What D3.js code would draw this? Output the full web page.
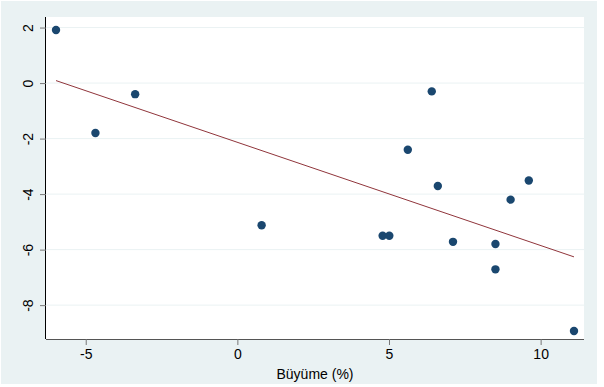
<!DOCTYPE html>
<html>
<head>
<meta charset="utf-8">
<script src="https://cdn.jsdelivr.net/npm/d3@7"></script>
<style>
	body { margin: 0; background: #fff; }
	svg { display: block; font-family: "Liberation Sans", Arial, sans-serif; }
</style>
</head>
<body>
<div id="chart"></div>
<script>
// değerler
const growth = [-5.98, -4.68, -3.37, 0.80, 4.79, 5.01, 5.62, 6.41, 6.61, 7.11, 8.51, 8.51, 9.01, 9.61, 11.10];
const yvals  = [1.91, -1.80, -0.40, -5.12, -5.50, -5.50, -2.40, -0.30, -3.71, -5.72, -5.80, -6.71, -4.20, -3.51, -8.93];
const xTicks = [-5, 0, 5, 10];
const yTicks = [2, 0, -2, -4, -6, -8];
const xTitle = "Büyüme (%)";

const W = 604, H = 387;
const plot = { left: 46, top: 17, right: 584, bottom: 339 };

const svg = d3.select("#chart")
	.append("svg")
		.attr("width", W)
		.attr("height", H);

svg.append("rect")
	.attr("x", 1).attr("y", 1)
	.attr("width", 596).attr("height", 383)
	.attr("fill", "#eaf2f3");

const x = d3.scaleLinear().domain([-6.31, 11.43]).range([plot.left, plot.right]);
const y = d3.scaleLinear().domain([2.38, -9.22]).range([plot.top, plot.bottom]);

svg.append("rect")
	.attr("x", plot.left).attr("y", plot.top)
	.attr("width", plot.right - plot.left)
	.attr("height", plot.bottom - plot.top)
	.attr("fill", "#fff");

// yatay ızgara
svg.append("g")
	.selectAll("line")
	.data(yTicks)
	.join("line")
		.attr("x1", plot.left).attr("x2", plot.right)
		.attr("y1", d => y(d)).attr("y2", d => y(d))
		.attr("stroke", "#eaf2f3")
		.attr("stroke-width", 1);

// doğrusal uyum (en küçük kareler)
const mx = d3.mean(growth), my = d3.mean(yvals);
let sxy = 0, sxx = 0;
growth.forEach((g, i) => {
	sxy += (g - mx) * (yvals[i] - my);
	sxx += (g - mx) * (g - mx);
});
const slope = sxy / sxx;
const icpt = my - slope * mx;
const [xmin, xmax] = d3.extent(growth);

svg.append("line")
	.attr("x1", x(xmin)).attr("y1", y(icpt + slope * xmin))
	.attr("x2", x(xmax)).attr("y2", y(icpt + slope * xmax))
	.attr("stroke", "#90353b")
	.attr("stroke-width", 1);

svg.append("g")
	.selectAll("circle")
	.data(growth)
	.join("circle")
		.attr("cx", d => x(d))
		.attr("cy", (d, i) => y(yvals[i]))
		.attr("r", 4.2)
		.attr("fill", "#1a476f");

// eksenler
const xAxis = svg.append("g")
	.attr("transform", `translate(0,${plot.bottom})`)
	.call(d3.axisBottom(x).tickValues(xTicks).tickSize(6).tickPadding(4).tickFormat(d => String(d)));
xAxis.select(".domain")
	.attr("d", `M${plot.left},0.5H${plot.right}`)
	.attr("stroke", "#555");

const yAxis = svg.append("g")
	.attr("transform", `translate(${plot.left},0)`)
	.call(d3.axisLeft(y).tickValues(yTicks).tickSize(6).tickPadding(6).tickFormat(d => String(d)));
yAxis.select(".domain")
	.attr("d", `M-0.5,${plot.top}V${plot.bottom}`)
	.attr("stroke", "#000");

svg.selectAll(".tick line").attr("stroke", "#777");
svg.selectAll(".tick text")
	.attr("font-size", 14)
	.attr("fill", "#000")
	.attr("font-family", "Liberation Sans, Arial, sans-serif");

yAxis.selectAll(".tick text")
	.attr("text-anchor", "middle")
	.attr("dy", null)
	.attr("x", null)
	.attr("transform", "translate(-18,0) rotate(-90)")
	.attr("dominant-baseline", "central");

svg.append("text")
	.attr("x", 315)
	.attr("y", 379)
	.attr("text-anchor", "middle")
	.attr("font-size", 14)
	.text(xTitle);
</script>
</body>
</html>
